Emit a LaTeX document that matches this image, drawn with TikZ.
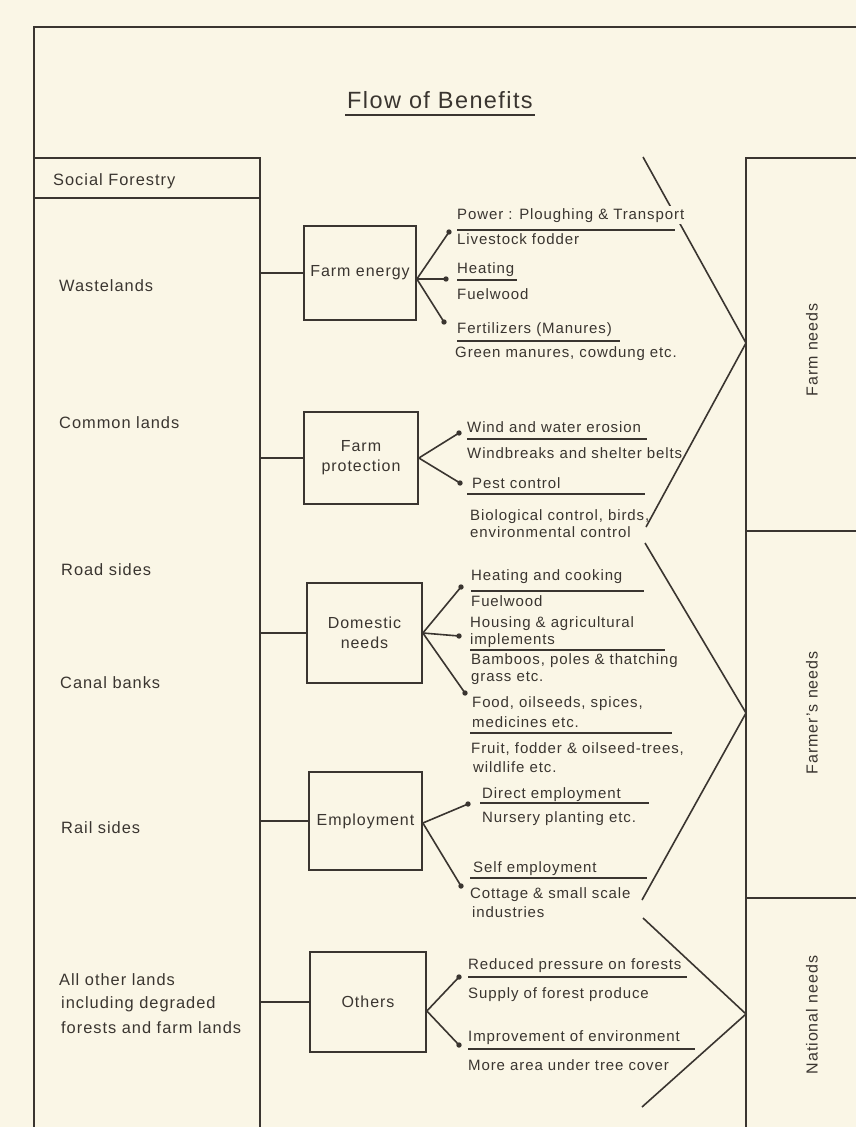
\documentclass[tikz,border=0pt]{standalone}
\usepackage{fontspec}
\setmainfont{Liberation Sans}[LetterSpace=6]
\definecolor{paper}{RGB}{250,246,230}
\definecolor{ink}{RGB}{58,53,48}
\begin{document}
\begin{tikzpicture}[x=1pt,y=-1pt,
  frame/.style={draw=ink,line width=1.7pt},
  cn/.style={draw=ink,line width=1.6pt},
  ul/.style={draw=ink,line width=1.4pt},
  chev/.style={draw=ink,line width=1.6pt},
  bx/.style={draw=ink,line width=1.7pt,text=ink,align=center,inner sep=0pt,
    font=\fontsize{16}{20}\selectfont},
  lbl/.style={text=ink,inner sep=0pt,anchor=base west,font=\fontsize{16.4}{20}\selectfont},
  br/.style={text=ink,inner sep=0pt,anchor=base west,font=\fontsize{15}{18}\selectfont},
  vlbl/.style={text=ink,inner sep=0pt,rotate=90,font=\fontsize{16}{20}\selectfont},
  dotc/.style={fill=ink}]
\useasboundingbox (0,0) rectangle (856,1127);
\fill[paper] (0,0) rectangle (856,1127);

% outer frame and columns
\draw[frame] (856,27) -- (34,27) -- (34,1127);
\draw[frame] (34,158) -- (260,158) -- (260,1127);
\draw[frame] (34,198) -- (260,198);
\draw[frame] (856,158) -- (746,158) -- (746,1127);
\draw[frame] (746,531) -- (856,531);
\draw[frame] (746,898) -- (856,898);
\coordinate (colR) at (260,0);

% title
\node[text=ink,inner sep=0pt,font=\fontsize{23.5}{28}\selectfont] (title) at (440,100) {Flow of Benefits};
\draw[ul,line width=1.6pt] (345,115) -- (535,115);

% left column labels
\node[lbl] (sf) at (53,185) {Social Forestry};
\node[lbl] (wl) at (59,291) {Wastelands};
\node[lbl] (cl) at (59,428) {Common lands};
\node[lbl] (rs) at (61,575) {Road sides};
\node[lbl] (cb) at (60,688) {Canal banks};
\node[lbl] (rl) at (61,833) {Rail sides};
\node[lbl] (ao1) at (59,985) {All other lands};
\node[lbl] (ao2) at (61,1008) {including degraded};
\node[lbl] (ao3) at (61,1033) {forests and farm lands};

% benefit boxes
\node[bx,minimum width=112pt,minimum height=94pt] (fe) at (360,273) {Farm energy};
\node[bx,minimum width=114pt,minimum height=92pt] (fp) at (361,458) {Farm\\protection};
\node[bx,minimum width=115pt,minimum height=100pt] (dn) at (364.5,633) {Domestic\\needs};
\node[bx,minimum width=113pt,minimum height=98pt] (em) at (365.5,821) {Employment};
\node[bx,minimum width=116pt,minimum height=100pt] (ot) at (368,1002) {Others};

% connectors from the land column to the boxes
\foreach \b in {fe,fp,dn,em,ot}{\draw[cn] (\b.west -| colR) -- (\b.west);}

% branch end points
\coordinate (d11) at (449,232);
\coordinate (d12) at (446,279);
\coordinate (d13) at (444,322);
\coordinate (d21) at (459,433);
\coordinate (d22) at (460,483);
\coordinate (d31) at (461,587);
\coordinate (d32) at (459,636);
\coordinate (d33) at (465,693);
\coordinate (d41) at (468,804);
\coordinate (d42) at (461,886);
\coordinate (d51) at (459,977);
\coordinate (d52) at (459,1045);

\foreach \d in {d11,d12,d13}{\draw[cn] ([yshift=-6pt]fe.east) -- (\d);}
\foreach \d in {d21,d22}{\draw[cn] (fp.east) -- (\d);}
\foreach \d in {d31,d32,d33}{\draw[cn] (dn.east) -- (\d);}
\foreach \d in {d41,d42}{\draw[cn] ([yshift=-2pt]em.east) -- (\d);}
\foreach \d in {d51,d52}{\draw[cn] ([yshift=-9pt]ot.east) -- (\d);}
\foreach \d in {d11,d12,d13,d21,d22,d31,d32,d33,d41,d42,d51,d52}{\fill[dotc] (\d) circle (2.7);}

% chevrons
\coordinate (a1) at (643,157); \coordinate (a2) at (746,343); \coordinate (a3) at (646,527);
\coordinate (b1) at (645,543); \coordinate (b2) at (746,713); \coordinate (b3) at (642,900);
\coordinate (c1) at (643,918); \coordinate (c2) at (746,1014); \coordinate (c3) at (642,1107);
\draw[chev] (a1) -- (a2) -- (a3);
\draw[chev] (b1) -- (b2) -- (b3);
\draw[chev] (c1) -- (c2) -- (c3);

% need labels
\node[vlbl] (n1) at (812,350) {Farm needs};
\node[vlbl] (n2) at (812,713) {Farmer's needs};
\node[vlbl] (n3) at (812,1015) {National needs};

% farm energy items
\node[br,fill=paper,inner ysep=2pt] (p1) at (457,219) {Power : Ploughing \& Transport};
\node[br] (p2) at (457,244) {Livestock fodder};
\node[br] (p3) at (457,273) {Heating};
\node[br] (p4) at (457,299) {Fuelwood};
\node[br] (p5) at (457,333) {Fertilizers (Manures)};
\node[br] (p6) at (455,357) {Green manures, cowdung etc.};
\draw[ul] (457,230) -- (675,230);
\draw[ul] (457,280) -- (517,280);
\draw[ul] (457,341) -- (620,341);

% farm protection items
\node[br] (q1) at (467,432) {Wind and water erosion};
\node[br] (q2) at (467,458) {Windbreaks and shelter belts};
\node[br] (q3) at (472,488) {Pest control};
\node[br] (q4) at (470,520) {Biological control, birds,};
\node[br] (q5) at (470,537.5) {environmental control};
\draw[ul] (467,439) -- (647,439);
\draw[ul] (467,494) -- (645,494);

% domestic needs items
\node[br] (r1) at (471,580) {Heating and cooking};
\node[br] (r2) at (471,606) {Fuelwood};
\node[br] (r3) at (470,627.5) {Housing \& agricultural};
\node[br] (r4) at (470,644.5) {implements};
\node[br] (r5) at (471,664) {Bamboos, poles \& thatching};
\node[br] (r6) at (471,681) {grass etc.};
\node[br] (r7) at (472,707) {Food, oilseeds, spices,};
\node[br] (r8) at (472,727) {medicines etc.};
\node[br] (r9) at (471,753) {Fruit, fodder \& oilseed-trees,};
\node[br] (r10) at (473,772) {wildlife etc.};
\draw[ul] (471,591) -- (644,591);
\draw[ul] (470,650) -- (665,650);
\draw[ul] (470,733) -- (672,733);

% employment items
\node[br] (s1) at (482,798) {Direct employment};
\node[br] (s2) at (482,822) {Nursery planting etc.};
\node[br] (s3) at (473,872) {Self employment};
\node[br] (s4) at (470,898) {Cottage \& small scale};
\node[br] (s5) at (472,917) {industries};
\draw[ul] (480,803) -- (649,803);
\draw[ul] (470,878) -- (647,878);

% other items
\node[br] (o1) at (468,969) {Reduced pressure on forests};
\node[br] (o2) at (468,998) {Supply of forest produce};
\node[br] (o3) at (468,1041) {Improvement of environment};
\node[br] (o4) at (468,1070) {More area under tree cover};
\draw[ul] (468,977) -- (687,977);
\draw[ul] (468,1049) -- (695,1049);
\end{tikzpicture}
\end{document}
